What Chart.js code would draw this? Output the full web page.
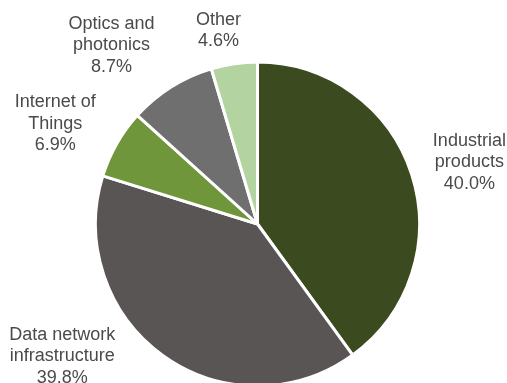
<!DOCTYPE html>
<html>
<head>
<meta charset="utf-8">
<script src="https://cdn.jsdelivr.net/npm/chart.js@4.4.0/dist/chart.umd.min.js"></script>
<style>
    html, body { margin: 0; padding: 0; background: #ffffff; }
    #wrap { width: 507px; height: 383px; position: relative; }
</style>
</head>
<body>
<div id="wrap"><canvas id="chart"></canvas></div>
<script>
// Market segments, clockwise from 12 o'clock
const categories = [
    ['Industrial', 'products'],
    ['Data network', 'infrastructure'],
    ['Internet of', 'Things'],
    ['Optics and', 'photonics'],
    ['Other']
];
const shares = [40.0, 39.8, 6.9, 8.7, 4.6]; // percent
const sliceColors = ['#3b4a1f', '#595555', '#70963c', '#6f6f6f', '#b3d4a0'];

// Label placement around the pie: angle nudge (deg) from the slice middle,
// and distance as a multiple of the outer radius
const labelNudge = [1.8, 20.2, -3.3, -7.0, -3.1];
const labelDistance = [1.362, 1.456, 1.394, 1.425, 1.219];

const labelFont = '18px "Liberation Sans", Arial, sans-serif';
const labelColor = '#4a4a4a';
const lineHeight = 21.5;

/**
 * Draws the category name and share outside each slice
 */
const outsideLabels = {
    id: 'outsideLabels',
    afterDatasetsDraw(chart) {
        const ctx = chart.ctx;
        const meta = chart.getDatasetMeta(0);
        ctx.save();
        ctx.font = labelFont;
        ctx.fillStyle = labelColor;
        ctx.textAlign = 'center';
        ctx.textBaseline = 'middle';

        meta.data.forEach((arc, i) => {
            const { x, y, startAngle, endAngle, outerRadius } = arc.getProps(
                ['x', 'y', 'startAngle', 'endAngle', 'outerRadius'], true);
            const mid = (startAngle + endAngle) / 2 + labelNudge[i] * Math.PI / 180;
            const dist = outerRadius * labelDistance[i];
            const lx = x + Math.cos(mid) * dist;
            const ly = y + Math.sin(mid) * dist;

            const lines = categories[i].concat([shares[i].toFixed(1) + '%']);
            const top = ly - (lines.length - 1) * lineHeight / 2;
            lines.forEach((line, j) => {
                ctx.fillText(line, lx, top + j * lineHeight);
            });
        });
        ctx.restore();
    }
};

new Chart(document.getElementById('chart'), {
    type: 'pie',
    data: {
        labels: categories,
        datasets: [{
            data: shares,
            backgroundColor: sliceColors,
            borderColor: '#ffffff',
            borderWidth: 3,
            radius: 162
        }]
    },
    options: {
        responsive: true,
        maintainAspectRatio: false,
        animation: false,
        layout: {
            padding: { left: 97, right: 89, top: 65, bottom: 0 }
        },
        plugins: {
            legend: { display: false },
            tooltip: { enabled: false }
        }
    },
    plugins: [outsideLabels]
});
</script>
</body>
</html>
